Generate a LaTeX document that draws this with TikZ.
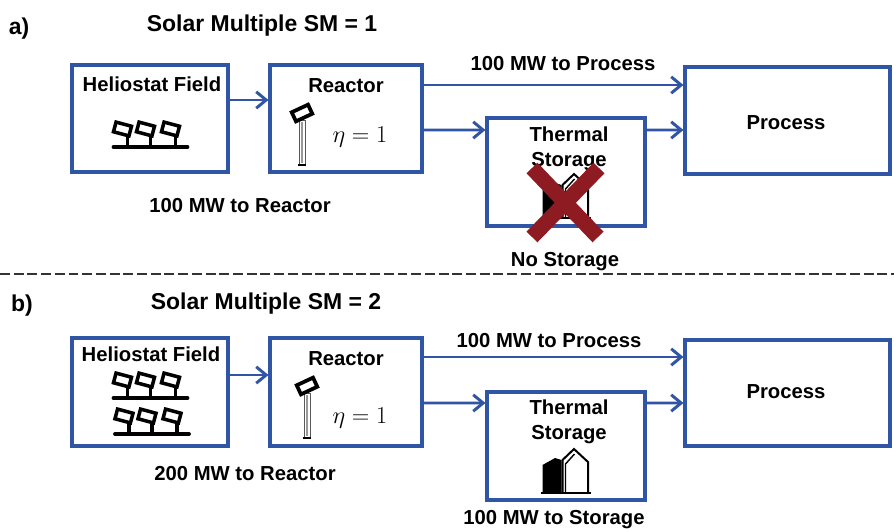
\documentclass[tikz,border=0pt]{standalone}
\usepackage{fontspec}
\setmainfont{Liberation Sans}
\usepackage{color}
\usepackage{tikz}
\definecolor{blue500}{HTML}{2F55A4}
\definecolor{red500}{HTML}{8E1A22}
\usetikzlibrary{arrows.meta}
\tikzstyle{caixa}=[rectangle, draw=blue500, line width=2.6pt, fill=white, inner sep=0pt]
\tikzstyle{fluxo}=[draw=blue500, line width=2.5pt, -{Straight Barb[length=8.5pt,width=14pt,line width=2.5pt]}]
\tikzstyle{rotulo}=[font=\fontsize{17.3}{20}\bfseries\selectfont, inner sep=0pt, text height=12.3pt, text depth=0pt]
\tikzstyle{titulo}=[rotulo, font=\fontsize{19.6}{22}\bfseries\selectfont, text height=14pt]
\tikzstyle{cruz}=[draw=red500, line width=13pt]
\tikzset{
	espelhos/.pic={
		\draw[black, line width=3.2pt, line cap=round] (-37,0)--(37,0);
		\foreach \px in {-23,0,25}{
			\draw[black, line width=2.8pt] (\px,0)--(\px,-12);
			\draw[black, line width=3pt, fill=white, rotate around={-15:(\px-5,-18)}] (\px-13,-23) rectangle (\px+3,-13);
		}
	},
	receptor/.pic={
		\draw[black!65, line width=0.8pt, fill=white] (-3,0) rectangle (3,45);
		\fill[black!40] (-1.2,2) rectangle (1.2,43);
		\draw[black, line width=1.6pt] (-4,45)--(4,45);
		\draw[black, line width=3.2pt, fill=white, rotate around={25:(0,-7)}] (-9,-12) rectangle (9,-2);
	},
	armazem/.pic={
		\fill[black] (-23,0)--(-23,-28)--(-10.5,-35)--(-4,-33)--(-4,0)--cycle;
		\draw[black, line width=1.7pt, line join=miter] (-3,0)--(-3,-33)--(8.5,-44)--(22.5,-31)--(22.5,0);
		\draw[black, line width=1.2pt] (0,0)--(0,-29)--(9,-39);
		\draw[black, line width=2.4pt] (-25,0)--(25,0);
	}
}

\begin{document}
\begin{tikzpicture}[x=0.03cm, y=-0.03cm]
	\useasboundingbox (0,0) rectangle (894,528);
	% a)
	\node[titulo] (a) at (19,26) {a)};
	\node[titulo] (titA) at (262,23) {Solar Multiple SM = 1};
	\node[caixa, minimum width=4.68cm, minimum height=3.21cm] (campoA) at (150,118.5) {};
	\node[caixa, minimum width=4.56cm, minimum height=3.21cm] (reatorA) at (346,118.5) {};
	\node[caixa, minimum width=4.74cm, minimum height=3.24cm] (termicoA) at (566,172) {};
	\node[caixa, minimum width=6.15cm, minimum height=3.21cm] (processoA) at (787.5,120.5) {};
	\node[rotulo] (txtcampoA) at (152,84) {Heliostat Field};
	\node[rotulo] (txtreatorA) at (346,85) {Reactor};
	\node[rotulo] (txtprocA) at (786,122) {Process};
	\node[rotulo] (txtterm1A) at (569,134) {Thermal};
	\node[rotulo] (txtterm2A) at (569,159) {Storage};
	\node[rotulo] (envioA) at (240,205) {100 MW to Reactor};
	\node[rotulo] (saidaA) at (563,63) {100 MW to Process};
	\node[rotulo] (semA) at (565,259) {No Storage};
	\node[font=\fontsize{20.5}{24}\selectfont, inner sep=0pt] (etaA) at (360,137) {$\eta = 1$};
	\pic at (150.5,147) {espelhos};
	\pic at (302,120) {receptor};
	\pic at (565.5,218) {armazem};
	\path[fluxo] ([yshift=0.555cm]campoA.east)--([yshift=0.555cm]reatorA.west);
	\path[fluxo] ([yshift=1.005cm]reatorA.east)--([yshift=1.065cm]processoA.west);
	\path[fluxo] ([yshift=-0.345cm]reatorA.east)--([yshift=1.26cm]termicoA.west);
	\path[fluxo] ([yshift=1.26cm]termicoA.east)--([yshift=-0.285cm]processoA.west);
	\coordinate (c1) at (532,168);
	\coordinate (c2) at (598,237);
	\coordinate (c3) at (599,168);
	\coordinate (c4) at (532,237);
	\path[cruz] (c1)--(c2)(c3)--(c4);
	% separador
	\coordinate (s1) at (0,274);
	\coordinate (s2) at (894,274);
	\path[draw=black!80, line width=1.2pt, dash pattern=on 8.5pt off 3.2pt] (s1)--(s2);
	% b)
	\node[titulo] (b) at (22,303) {b)};
	\node[titulo] (titB) at (266,301) {Solar Multiple SM = 2};
	\node[caixa, minimum width=4.68cm, minimum height=3.24cm] (campoB) at (150,392) {};
	\node[caixa, minimum width=4.56cm, minimum height=3.24cm] (reatorB) at (346,392) {};
	\node[caixa, minimum width=4.74cm, minimum height=3.24cm] (termicoB) at (566,446) {};
	\node[caixa, minimum width=6.15cm, minimum height=3.18cm] (processoB) at (787.5,393) {};
	\node[rotulo] (txtcampoB) at (151,354) {Heliostat Field};
	\node[rotulo] (txtreatorB) at (346,358) {Reactor};
	\node[rotulo] (txtprocB) at (786,391) {Process};
	\node[rotulo] (txtterm1B) at (569,407) {Thermal};
	\node[rotulo] (txtterm2B) at (569,432) {Storage};
	\node[rotulo] (envioB) at (245,473) {200 MW to Reactor};
	\node[rotulo] (saidaB) at (549,340) {100 MW to Process};
	\node[rotulo] (comB) at (554,517) {100 MW to Storage};
	\node[font=\fontsize{20.5}{24}\selectfont, inner sep=0pt] (etaB) at (360,418) {$\eta = 1$};
	\pic at (150.5,398) {espelhos};
	\pic at (152,434) {espelhos};
	\pic at (307,393) {receptor};
	\pic at (565.5,493) {armazem};
	\path[fluxo] ([yshift=0.51cm]campoB.east)--([yshift=0.51cm]reatorB.west);
	\path[fluxo] ([yshift=1.05cm]reatorB.east)--([yshift=1.08cm]processoB.west);
	\path[fluxo] ([yshift=-0.33cm]reatorB.east)--([yshift=1.29cm]termicoB.west);
	\path[fluxo] ([yshift=1.29cm]termicoB.east)--([yshift=-0.30cm]processoB.west);
\end{tikzpicture}
\end{document}
